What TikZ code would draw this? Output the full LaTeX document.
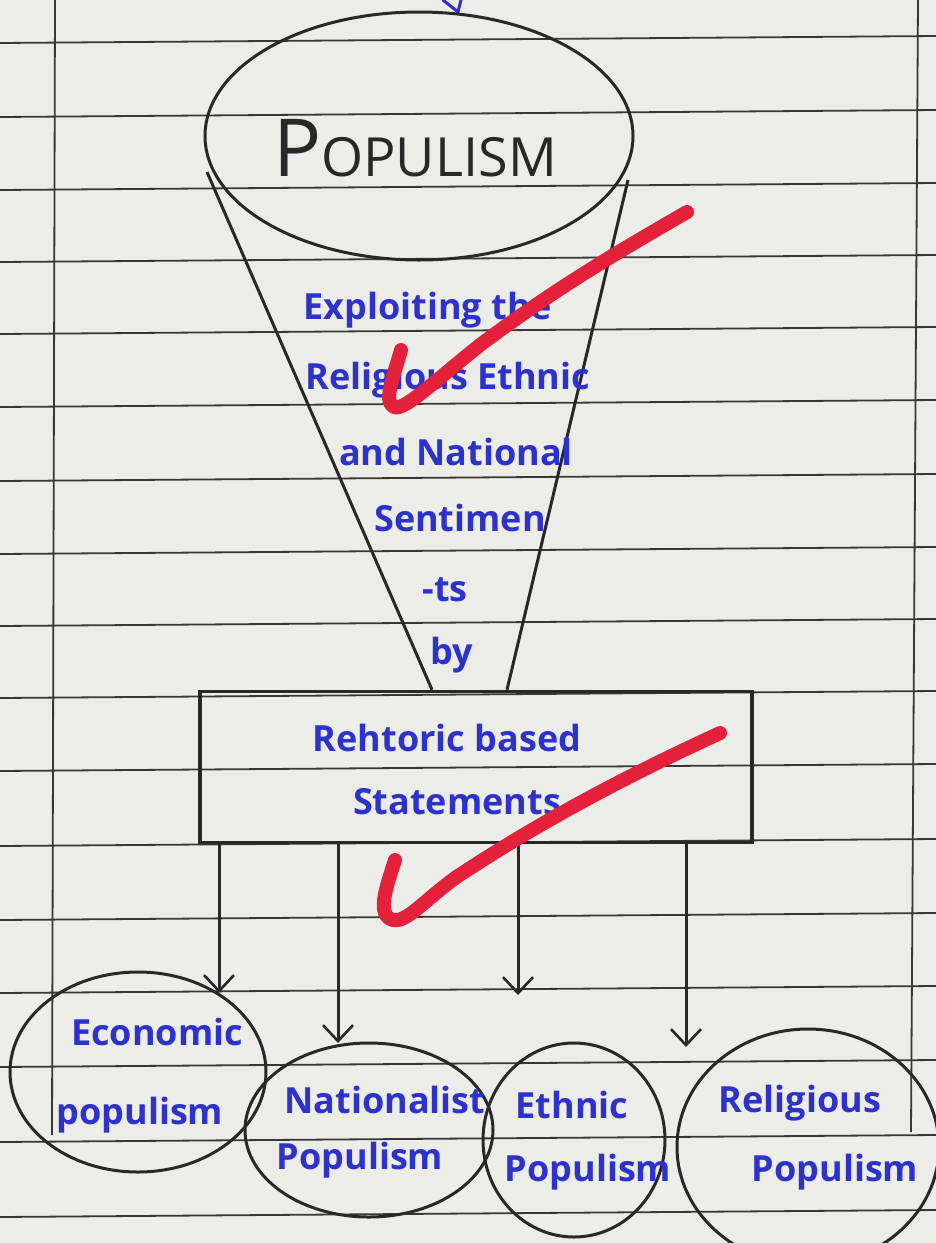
\documentclass[tikz,border=0pt]{standalone}
\usepackage{fontspec}
\setmainfont{Open Sans}
\usetikzlibrary{shapes.geometric,arrows.meta}
\definecolor{paper}{RGB}{236,236,233}
\definecolor{rule}{RGB}{55,55,55}
\definecolor{pen}{RGB}{40,40,40}
\definecolor{ink}{RGB}{45,50,205}
\definecolor{marker}{RGB}{228,32,58}
\tikzset{
  ruling/.style={rule, line width=1.8},
  penline/.style={pen, line width=3},
  oval/.style={ellipse, draw=pen, line width=3, inner sep=0pt},
  handtext/.style={text=ink, font=\bfseries\fontsize{36}{40}\selectfont, inner sep=0pt},
  downarrow/.style={penline, -{Straight Barb[length=16pt,width=30pt,line width=2.6pt]}},
  tick/.style={marker, line width=14, line cap=round, line join=round}
}
\begin{document}
\begin{tikzpicture}[x=1pt,y=-1pt]
\useasboundingbox (0,0) rectangle (936,1243);
\clip (0,0) rectangle (936,1243);
\fill[paper] (0,0) rectangle (936,1243);
% paper rulings
\foreach \y in {40,114,187,259,331,404,478,551,623,695,768,843,917,990,1064,1139,1214}
  \draw[ruling] (0,\y+3) -- (936,\y-4);
\draw[ruling] (55,0) -- (52,1135);
\draw[ruling] (918,0) -- (911,1132);
% faint arrow tip at top
\draw[ink, line width=3, line cap=round] (443,0) -- (458,12) -- (461,0);
% main ellipse
\node[oval, minimum width=428, minimum height=248] (pop) at (419,136) {};
\node[text=pen, inner sep=0pt, anchor=base] (poptext) at (415,176)
  {{\fontsize{80}{80}\selectfont P}{\fontsize{54}{54}\selectfont OPULISM}};
% box
\node[draw=pen, line width=3.5, minimum width=552, minimum height=151, inner sep=0pt] (box) at (476,767) {};
% cone
\coordinate (cl) at (207,172);
\coordinate (cr) at (628,180);
\draw[penline] (cl) -- (box.north -| 432,0);
\draw[penline] (cr) -- (box.north -| 507,0);
% cone text
\node[handtext] (t1) at (428,310) {Exploiting the};
\node[handtext] (t2) at (448,380) {Religious Ethnic};
\node[handtext] (t3) at (456,452) {and National};
\node[handtext] (t4) at (460,518) {Sentimen};
\node[handtext] (t5) at (445,590) {-ts};
\node[handtext] (t6) at (452,655) {by};
% box text
\node[handtext] (b1) at (447,738) {Rehtoric based};
\node[handtext] (b2) at (457,802) {Statements};
% circles
\node[oval, minimum width=256, minimum height=200] (econ) at (138,1072) {};
\node[oval, minimum width=248, minimum height=174] (nat) at (369,1130) {};
\node[oval, minimum width=182, minimum height=194] (eth) at (574,1140) {};
\node[oval, minimum width=262, minimum height=236] (rel) at (808,1147) {};
% arrows
\coordinate (a1) at (219,993);
\coordinate (a2) at (338,1043);
\coordinate (a3) at (518,995);
\coordinate (a4) at (686,1047);
\draw[downarrow] (box.south -| a1) -- (a1);
\draw[downarrow] (box.south -| a2) -- (a2);
\draw[downarrow] (box.south -| a3) -- (a3);
\draw[downarrow] (box.south -| a4) -- (a4);
% circle texts
\node[handtext] (e1) at (157,1032) {Economic};
\node[handtext] (e2) at (140,1115) {populism};
\node[handtext] (n1) at (385,1100) {Nationalist};
\node[handtext] (n2) at (360,1160) {Populism};
\node[handtext] (h1) at (572,1105) {Ethnic};
\node[handtext] (h2) at (588,1172) {Populism};
\node[handtext] (r1) at (800,1103) {Religious};
\node[handtext] (r2) at (835,1172) {Populism};
% red ticks
\draw[tick] (401,350) .. controls (393,378) and (383,402) .. (394,407)
  .. controls (404,411) and (430,385) .. (480,345)
  .. controls (560,285) and (630,245) .. (687,212);
\draw[tick] (395,860) .. controls (386,888) and (376,915) .. (393,920)
  .. controls (406,923) and (425,900) .. (455,878)
  .. controls (550,815) and (640,770) .. (720,733);
\end{tikzpicture}
\end{document}
